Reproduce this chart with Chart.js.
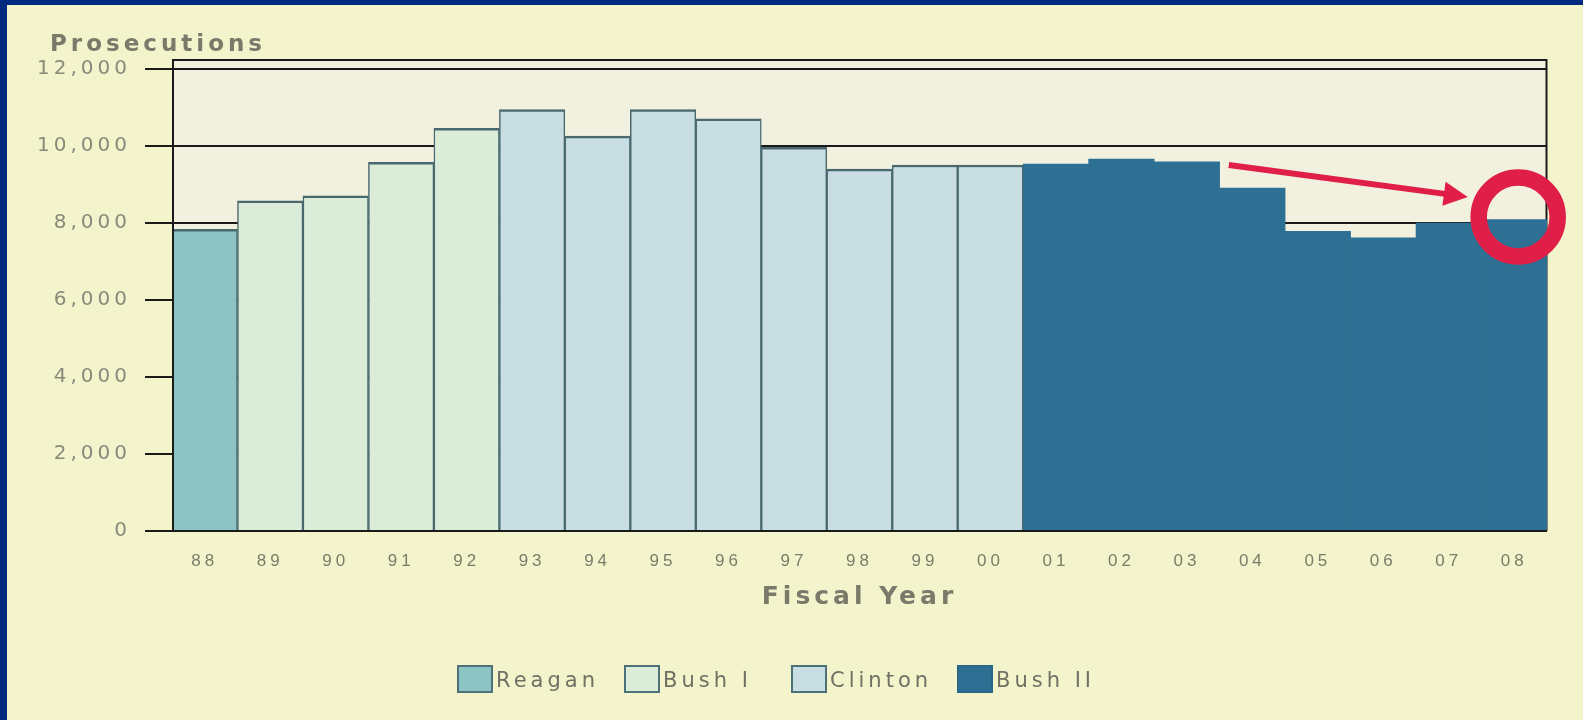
<!DOCTYPE html>
<html><head><meta charset="utf-8">
<script src="https://cdn.jsdelivr.net/npm/chart.js@4/dist/chart.umd.min.js"></script>
<style>
html,body{margin:0;padding:0;width:1583px;height:720px;overflow:hidden;background:#022a7e;}
#panel{position:absolute;left:7px;top:5px;width:1576px;height:715px;background:#f4f4cc;}
#wrap{position:absolute;left:0;top:0;width:1583px;height:720px;}
</style></head><body>
<div id="panel"></div>
<div id="wrap"><canvas id="c" width="1583" height="720"></canvas></div>
<script>
// ---- data ----
const years = ['88','89','90','91','92','93','94','95','96','97','98','99','00','01','02','03','04','05','06','07','08'];
const prosecutions = [7830, 8570, 8700, 9570, 10450, 10940, 10250, 10940, 10700, 9960, 9390, 9500, 9500, 9520, 9650, 9580, 8900, 7780, 7610, 7990, 8080];
const administrations = ['Reagan', 'Bush I', 'Clinton', 'Bush II'];
const adminOfYear = [0,1,1,1,1,2,2,2,2,2,2,2,2,3,3,3,3,3,3,3,3];
const yTicks = [0, 2000, 4000, 6000, 8000, 10000, 12000];
const yMax = 12250;
const yTitle = 'Prosecutions';
const xTitle = 'Fiscal Year';
// annotation anchor points in data space (category index, value)
const arrowFrom = [15.64, 9500];
const arrowTo = [19.29, 8670];
const ringAt = [20.06, 8150];

// ---- styles ----
const adminFill = ['#8cc3c4', '#dbecd9', '#c9dee3', '#2e7094'];
const adminBorder = ['#49696f', '#49696f', '#49696f', '#2e7094'];
const legendBoxX = [457, 624, 791, 957];
const RED = '#df1f48';

const datasets = administrations.map((name, i) => ({
  label: name,
  data: prosecutions.map((v, j) => adminOfYear[j] === i ? v : null),
  backgroundColor: adminFill[i],
  borderColor: adminBorder[i],
  borderWidth: i === 3 ? 0 : {top: 2.5, left: 1.5, right: 1.5, bottom: 0},
  borderSkipped: 'start',
  barPercentage: 1,
  categoryPercentage: 1
}));

const framePlugin = {
  id: 'frame',
  afterLayout(chart) {
    if (chart.titleBlock) chart.titleBlock.left = 50;
  },
  beforeDraw(chart) {
    const {ctx, chartArea: a} = chart;
    ctx.save();
    ctx.fillStyle = '#f2f1df';
    ctx.fillRect(a.left, a.top, a.right - a.left, a.bottom - a.top);
    ctx.restore();
    ctx.letterSpacing = '4px';
  },
  beforeDatasetsDraw(chart) {
    const {ctx, chartArea: a} = chart;
    ctx.save();
    ctx.strokeStyle = '#1a1a1a';
    ctx.lineWidth = 2;
    ctx.beginPath();
    ctx.moveTo(a.left, a.top + 1); ctx.lineTo(a.right, a.top + 1);
    ctx.moveTo(a.right - 0.5, a.top); ctx.lineTo(a.right - 0.5, a.bottom);
    ctx.stroke();
    ctx.restore();
  },
  afterDatasetsDraw(chart) {
    const {ctx, chartArea: a} = chart;
    ctx.save();
    ctx.strokeStyle = '#1a1a1a';
    ctx.lineWidth = 2;
    ctx.beginPath();
    ctx.moveTo(a.left + 1, a.top); ctx.lineTo(a.left + 1, a.bottom);
    ctx.moveTo(a.left - 27, a.bottom); ctx.lineTo(a.right, a.bottom);
    ctx.stroke();
    ctx.restore();
  },
  afterDraw(chart) {
    const {ctx} = chart;
    const xs = chart.scales.x, ys = chart.scales.y;
    // legend
    ctx.save();
    ctx.letterSpacing = '4px';
    ctx.font = '21px "DejaVu Sans"';
    ctx.textBaseline = 'middle';
    ctx.textAlign = 'left';
    chart.data.datasets.forEach((ds, i) => {
      const bx = legendBoxX[i], by = 665;
      ctx.fillStyle = adminFill[i];
      ctx.fillRect(bx, by, 36, 28);
      ctx.strokeStyle = i === 3 ? '#2a6688' : '#4e7078';
      ctx.lineWidth = 2;
      ctx.strokeRect(bx + 1, by + 1, 34, 26);
      ctx.fillStyle = '#707064';
      ctx.fillText(ds.label, bx + 39, by + 17);
    });
    ctx.restore();
    // annotation arrow + ring
    const x0 = xs.getPixelForValue(arrowFrom[0]), y0 = ys.getPixelForValue(arrowFrom[1]);
    const x1 = xs.getPixelForValue(arrowTo[0]), y1 = ys.getPixelForValue(arrowTo[1]);
    const dx = x1 - x0, dy = y1 - y0, L = Math.hypot(dx, dy);
    const ux = dx / L, uy = dy / L;
    const hl = 24, hw = 12;
    ctx.save();
    ctx.strokeStyle = RED; ctx.fillStyle = RED;
    ctx.lineWidth = 6;
    ctx.beginPath();
    ctx.moveTo(x0, y0);
    ctx.lineTo(x1 - ux * hl * 0.8, y1 - uy * hl * 0.8);
    ctx.stroke();
    ctx.beginPath();
    ctx.moveTo(x1, y1);
    ctx.lineTo(x1 - ux * hl - uy * hw, y1 - uy * hl + ux * hw);
    ctx.lineTo(x1 - ux * hl + uy * hw, y1 - uy * hl - ux * hw);
    ctx.closePath();
    ctx.fill();
    const cx = xs.getPixelForValue(ringAt[0]), cy = ys.getPixelForValue(ringAt[1]);
    ctx.lineWidth = 16.5;
    ctx.beginPath();
    ctx.arc(cx, cy, 39.5, 0, Math.PI * 2);
    ctx.stroke();
    ctx.restore();
    ctx.letterSpacing = '0px';
  }
};

new Chart(document.getElementById('c'), {
  type: 'bar',
  data: {labels: years, datasets},
  plugins: [framePlugin],
  options: {
    responsive: false,
    animation: false,
    devicePixelRatio: 1,
    layout: {padding: {left: 0, right: 36, top: 0, bottom: 108}},
    plugins: {
      legend: {display: false},
      tooltip: {enabled: false},
      title: {
        display: true, text: yTitle, align: 'start', color: '#7a7a6b',
        font: {family: 'DejaVu Sans', size: 23, weight: 'bold'},
        padding: {top: 31.4, bottom: 0}
      }
    },
    scales: {
      x: {
        stacked: true,
        grid: {display: false, drawTicks: false},
        border: {display: false},
        ticks: {color: '#7b7b69', font: {family: 'Liberation Sans', size: 17}, padding: 20, maxRotation: 0, autoSkip: false},
        title: {display: true, text: xTitle, color: '#7a7a6b', font: {family: 'DejaVu Sans', size: 25, weight: 'bold'}, padding: 0},
        afterFit: s => { s.height = 81; }
      },
      y: {
        stacked: true,
        min: 0, max: yMax,
        afterBuildTicks: s => { s.ticks = yTicks.map(v => ({value: v})); },
        grid: {color: '#1a1a1a', lineWidth: 2, tickLength: 27, drawTicks: true},
        border: {display: false},
        ticks: {padding: 14, color: '#8a8a7b', font: {family: 'DejaVu Sans', size: 20},
                callback: v => Number(v).toLocaleString('en-US')},
        afterFit: s => { s.width = 172; }
      }
    }
  }
});
</script>
</body></html>
